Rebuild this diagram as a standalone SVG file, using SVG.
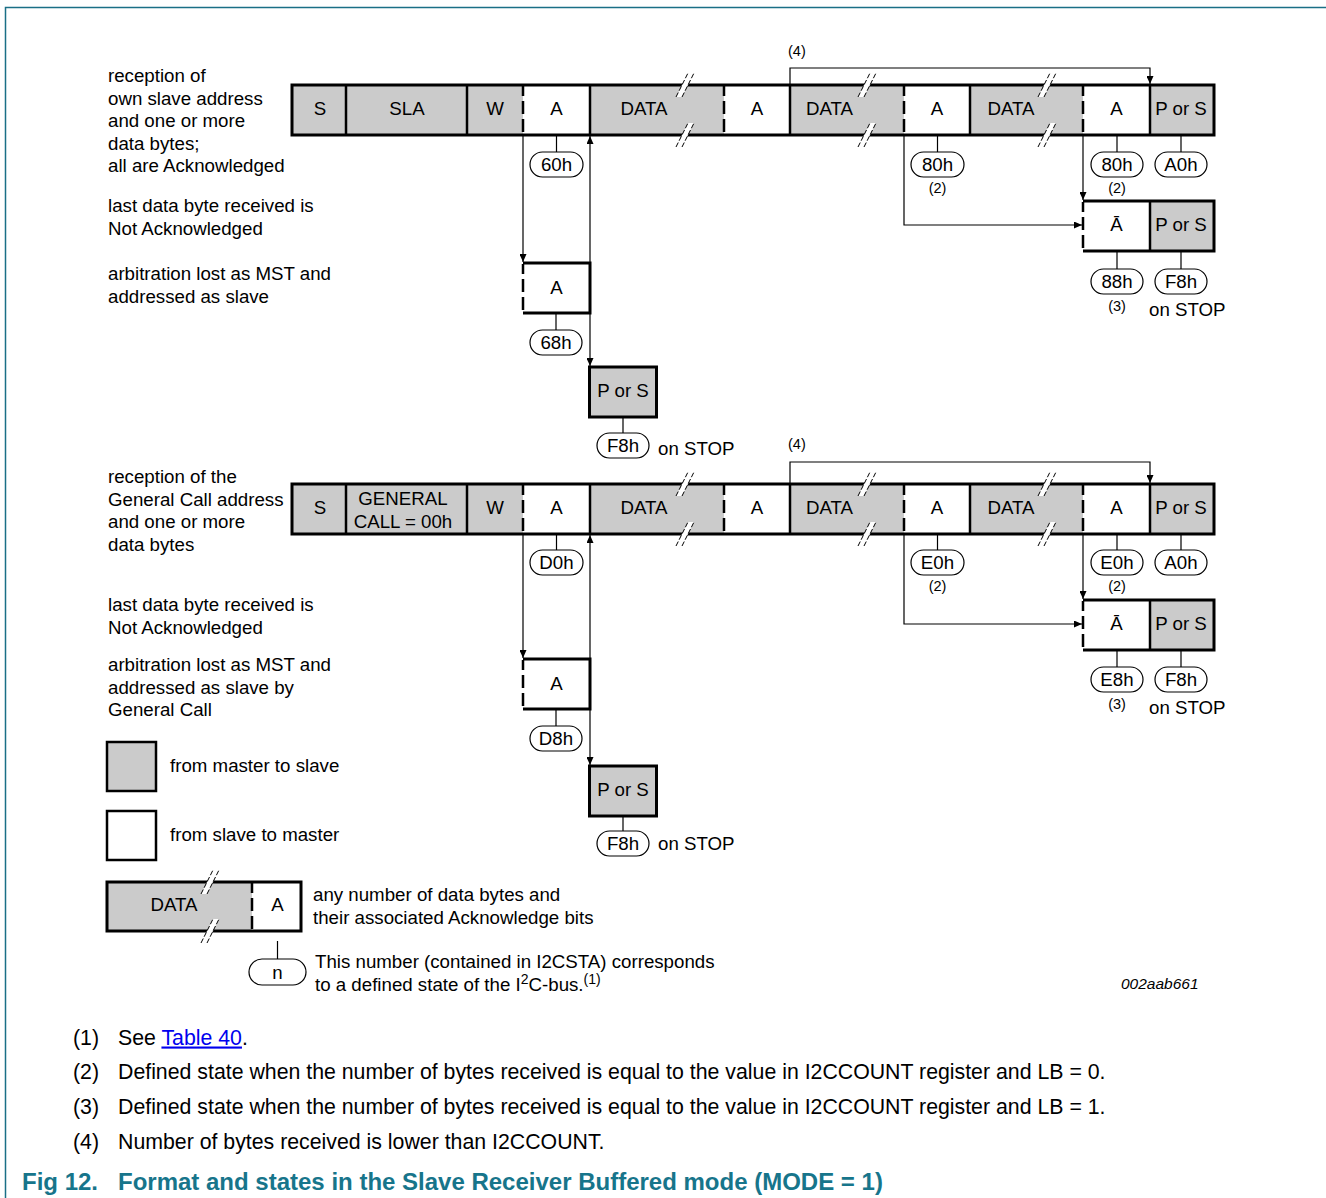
<svg xmlns="http://www.w3.org/2000/svg" width="1326" height="1198" viewBox="0 0 1326 1198">
<style>
text{font-family:"Liberation Sans",Arial,Helvetica,sans-serif;font-size:18.7px;fill:#000}
.c{text-anchor:middle}
.sm{font-size:14.5px}
.fn{font-size:21.3px}
.ttl{font-size:24px;font-weight:bold;fill:#17758b}
.id{font-size:15.5px;font-style:italic}
.gy{fill:#cbcbcb}
.wh{fill:#fff}
.bd{fill:none;stroke:#000;stroke-width:3}
.bi{fill:none;stroke:#000;stroke-width:2.5}
.ds{fill:none;stroke:#000;stroke-width:2.5;stroke-dasharray:10 5 13 5 13 5}
.ln{fill:none;stroke:#000;stroke-width:1.2}
.ov{fill:#fff;stroke:#000;stroke-width:1.2}
.frame{fill:none;stroke:#1a6f86;stroke-width:1.5}
</style>
<defs>
<marker id="ah" viewBox="0 0 8 7" refX="8" refY="3.5" markerWidth="8" markerHeight="7" orient="auto-start-reverse" markerUnits="userSpaceOnUse"><path d="M0,0L8,3.5L0,7z" fill="#000"/></marker>
<g id="brk"><polygon points="-9,12 -3,12 9,-12 3,-12" fill="#fff"/><path d="M-9,12L3,-12M-3,12L9,-12" stroke="#000" stroke-width="1" stroke-dasharray="5 2" fill="none"/></g>
</defs>

<g id="frame"><path class="frame" d="M1326,7.5H5.5V1198"/></g>

<!-- Section 1 labels -->
<g id="labels1">
<text x="108" y="82">reception of</text>
<text x="108" y="104.5">own slave address</text>
<text x="108" y="127">and one or more</text>
<text x="108" y="149.5">data bytes;</text>
<text x="108" y="172">all are Acknowledged</text>
<text x="108" y="212">last data byte received is</text>
<text x="108" y="235">Not Acknowledged</text>
<text x="108" y="280">arbitration lost as MST and</text>
<text x="108" y="302.5">addressed as slave</text>
</g>

<!-- Row 1 -->
<g id="r1-s"><rect class="gy" x="292" y="85" width="54" height="50"/><path class="bd" d="M346,85H292V135H346"/><text class="c" x="320" y="115">S</text></g>
<g id="r1-sla"><rect class="gy" x="346" y="85" width="121" height="50"/><path class="bd" d="M346,85H467M346,135H467"/><path class="bi" d="M346,85V135"/><text class="c" x="407" y="115">SLA</text></g>
<g id="r1-w"><rect class="gy" x="467" y="85" width="56" height="50"/><path class="bd" d="M467,85H523M467,135H523"/><path class="bi" d="M467,85V135"/><text class="c" x="495" y="115">W</text></g>
<g id="r1-a1"><rect class="wh" x="523" y="85" width="67" height="50"/><path class="bd" d="M523,85H590M523,135H590"/><path class="ds" d="M523,86V135"/><text class="c" x="556.5" y="115">A</text></g>
<g id="r1-d1"><rect class="gy" x="590" y="85" width="134" height="50"/><path class="bd" d="M590,85H724M590,135H724"/><path class="bi" d="M590,85V135"/><text class="c" x="644" y="115">DATA</text></g>
<g id="r1-a2"><rect class="wh" x="724" y="85" width="66" height="50"/><path class="bd" d="M724,85H790M724,135H790"/><path class="ds" d="M724,86V135"/><text class="c" x="757" y="115">A</text></g>
<g id="r1-d2"><rect class="gy" x="790" y="85" width="114" height="50"/><path class="bd" d="M790,85H904M790,135H904"/><path class="bi" d="M790,85V135"/><text class="c" x="829.5" y="115">DATA</text></g>
<g id="r1-a3"><rect class="wh" x="904" y="85" width="66" height="50"/><path class="bd" d="M904,85H970M904,135H970"/><path class="ds" d="M904,86V135"/><text class="c" x="937" y="115">A</text></g>
<g id="r1-d3"><rect class="gy" x="970" y="85" width="113" height="50"/><path class="bd" d="M970,85H1083M970,135H1083"/><path class="bi" d="M970,85V135"/><text class="c" x="1011" y="115">DATA</text></g>
<g id="r1-a4"><rect class="wh" x="1083" y="85" width="67" height="50"/><path class="bd" d="M1083,85H1150M1083,135H1150"/><path class="ds" d="M1083,86V135"/><text class="c" x="1116.5" y="115">A</text></g>
<g id="r1-ps"><rect class="gy" x="1150" y="85" width="64" height="50"/><path class="bd" d="M1150,85H1214V135H1150"/><path class="bi" d="M1150,85V135"/><text class="c" x="1181" y="115">P or S</text></g>
<g id="r1-breaks"><use href="#brk" x="685" y="85"/><use href="#brk" x="685" y="135"/><use href="#brk" x="867" y="85"/><use href="#brk" x="867" y="135"/><use href="#brk" x="1047" y="85"/><use href="#brk" x="1047" y="135"/></g>

<g id="r1-nack"><rect class="wh" x="1083" y="201" width="67" height="50"/><path class="bd" d="M1083,201H1150M1083,251H1150"/><path class="ds" d="M1083,202V251"/><text class="c" x="1116.5" y="231">Ā</text></g>
<g id="r1-nack-ps"><rect class="gy" x="1150" y="201" width="64" height="50"/><path class="bd" d="M1150,201H1214V251H1150"/><path class="bi" d="M1150,201V251"/><text class="c" x="1181" y="231">P or S</text></g>
<g id="r1-arb-a"><rect class="wh" x="523" y="263" width="67" height="50"/><path class="bd" d="M523,263H590V313H523"/><path class="ds" d="M523,264V313"/><text class="c" x="556.5" y="294">A</text></g>
<g id="r1-arb-ps"><rect class="gy" x="589.5" y="367" width="67" height="50" stroke="#000" stroke-width="3"/><text class="c" x="623" y="397">P or S</text></g>

<!-- States section 1 -->
<g id="st-60h"><rect class="ov" x="530" y="152" width="53" height="25" rx="12.5"/><text class="c" x="556.5" y="171">60h</text></g>
<g id="st-80h-a"><rect class="ov" x="911" y="152" width="53" height="25" rx="12.5"/><text class="c" x="937.5" y="171">80h</text><text class="c sm" x="937.5" y="193">(2)</text></g>
<g id="st-80h-b"><rect class="ov" x="1091" y="152" width="52" height="25" rx="12.5"/><text class="c" x="1117" y="171">80h</text><text class="c sm" x="1117" y="193">(2)</text></g>
<g id="st-a0h-1"><rect class="ov" x="1155" y="152" width="52" height="25" rx="12.5"/><text class="c" x="1181" y="171">A0h</text></g>
<g id="st-88h"><rect class="ov" x="1091" y="269" width="52" height="25" rx="12.5"/><text class="c" x="1117" y="288">88h</text><text class="c sm" x="1117" y="311">(3)</text></g>
<g id="st-f8h-1"><rect class="ov" x="1155" y="269" width="52" height="25" rx="12.5"/><text class="c" x="1181" y="288">F8h</text><text x="1149" y="316">on STOP</text></g>
<g id="st-68h"><rect class="ov" x="530" y="330" width="52" height="25" rx="12.5"/><text class="c" x="556" y="349">68h</text></g>
<g id="st-f8h-2"><rect class="ov" x="597" y="433" width="52" height="25" rx="12.5"/><text class="c" x="623" y="452">F8h</text><text x="658" y="455">on STOP</text></g>
<text class="sm" x="788" y="56">(4)</text>

<!-- Section 2 labels -->
<g id="labels2">
<text x="108" y="483">reception of the</text>
<text x="108" y="505.5">General Call address</text>
<text x="108" y="528">and one or more</text>
<text x="108" y="550.5">data bytes</text>
<text x="108" y="611">last data byte received is</text>
<text x="108" y="633.5">Not Acknowledged</text>
<text x="108" y="671">arbitration lost as MST and</text>
<text x="108" y="693.5">addressed as slave by</text>
<text x="108" y="716">General Call</text>
</g>

<!-- Row 2 -->
<g id="r2-s"><rect class="gy" x="292" y="484" width="54" height="50"/><path class="bd" d="M346,484H292V534H346"/><text class="c" x="320" y="514">S</text></g>
<g id="r2-gc"><rect class="gy" x="346" y="484" width="121" height="50"/><path class="bd" d="M346,484H467M346,534H467"/><path class="bi" d="M346,484V534"/><text class="c" x="403" y="504.5">GENERAL</text><text class="c" x="403" y="527.5">CALL = 00h</text></g>
<g id="r2-w"><rect class="gy" x="467" y="484" width="56" height="50"/><path class="bd" d="M467,484H523M467,534H523"/><path class="bi" d="M467,484V534"/><text class="c" x="495" y="514">W</text></g>
<g id="r2-a1"><rect class="wh" x="523" y="484" width="67" height="50"/><path class="bd" d="M523,484H590M523,534H590"/><path class="ds" d="M523,485V534"/><text class="c" x="556.5" y="514">A</text></g>
<g id="r2-d1"><rect class="gy" x="590" y="484" width="134" height="50"/><path class="bd" d="M590,484H724M590,534H724"/><path class="bi" d="M590,484V534"/><text class="c" x="644" y="514">DATA</text></g>
<g id="r2-a2"><rect class="wh" x="724" y="484" width="66" height="50"/><path class="bd" d="M724,484H790M724,534H790"/><path class="ds" d="M724,485V534"/><text class="c" x="757" y="514">A</text></g>
<g id="r2-d2"><rect class="gy" x="790" y="484" width="114" height="50"/><path class="bd" d="M790,484H904M790,534H904"/><path class="bi" d="M790,484V534"/><text class="c" x="829.5" y="514">DATA</text></g>
<g id="r2-a3"><rect class="wh" x="904" y="484" width="66" height="50"/><path class="bd" d="M904,484H970M904,534H970"/><path class="ds" d="M904,485V534"/><text class="c" x="937" y="514">A</text></g>
<g id="r2-d3"><rect class="gy" x="970" y="484" width="113" height="50"/><path class="bd" d="M970,484H1083M970,534H1083"/><path class="bi" d="M970,484V534"/><text class="c" x="1011" y="514">DATA</text></g>
<g id="r2-a4"><rect class="wh" x="1083" y="484" width="67" height="50"/><path class="bd" d="M1083,484H1150M1083,534H1150"/><path class="ds" d="M1083,485V534"/><text class="c" x="1116.5" y="514">A</text></g>
<g id="r2-ps"><rect class="gy" x="1150" y="484" width="64" height="50"/><path class="bd" d="M1150,484H1214V534H1150"/><path class="bi" d="M1150,484V534"/><text class="c" x="1181" y="514">P or S</text></g>
<g id="r2-breaks"><use href="#brk" x="685" y="484"/><use href="#brk" x="685" y="534"/><use href="#brk" x="867" y="484"/><use href="#brk" x="867" y="534"/><use href="#brk" x="1047" y="484"/><use href="#brk" x="1047" y="534"/></g>

<g id="r2-nack"><rect class="wh" x="1083" y="600" width="67" height="50"/><path class="bd" d="M1083,600H1150M1083,650H1150"/><path class="ds" d="M1083,601V650"/><text class="c" x="1116.5" y="630">Ā</text></g>
<g id="r2-nack-ps"><rect class="gy" x="1150" y="600" width="64" height="50"/><path class="bd" d="M1150,600H1214V650H1150"/><path class="bi" d="M1150,600V650"/><text class="c" x="1181" y="630">P or S</text></g>
<g id="r2-arb-a"><rect class="wh" x="523" y="659" width="67" height="50"/><path class="bd" d="M523,659H590V709H523"/><path class="ds" d="M523,660V709"/><text class="c" x="556.5" y="690">A</text></g>
<g id="r2-arb-ps"><rect class="gy" x="589.5" y="766" width="67" height="50" stroke="#000" stroke-width="3"/><text class="c" x="623" y="796">P or S</text></g>

<!-- States section 2 -->
<g id="st-d0h"><rect class="ov" x="530" y="550" width="53" height="25" rx="12.5"/><text class="c" x="556.5" y="569">D0h</text></g>
<g id="st-e0h-a"><rect class="ov" x="911" y="550" width="53" height="25" rx="12.5"/><text class="c" x="937.5" y="569">E0h</text><text class="c sm" x="937.5" y="591">(2)</text></g>
<g id="st-e0h-b"><rect class="ov" x="1091" y="550" width="52" height="25" rx="12.5"/><text class="c" x="1117" y="569">E0h</text><text class="c sm" x="1117" y="591">(2)</text></g>
<g id="st-a0h-2"><rect class="ov" x="1155" y="550" width="52" height="25" rx="12.5"/><text class="c" x="1181" y="569">A0h</text></g>
<g id="st-e8h"><rect class="ov" x="1091" y="667" width="52" height="25" rx="12.5"/><text class="c" x="1117" y="686">E8h</text><text class="c sm" x="1117" y="709">(3)</text></g>
<g id="st-f8h-3"><rect class="ov" x="1155" y="667" width="52" height="25" rx="12.5"/><text class="c" x="1181" y="686">F8h</text><text x="1149" y="714">on STOP</text></g>
<g id="st-d8h"><rect class="ov" x="530" y="726" width="52" height="25" rx="12.5"/><text class="c" x="556" y="745">D8h</text></g>
<g id="st-f8h-4"><rect class="ov" x="597" y="831" width="52" height="25" rx="12.5"/><text class="c" x="623" y="850">F8h</text><text x="658" y="850">on STOP</text></g>
<text class="sm" x="788" y="449">(4)</text>

<!-- Connectors -->
<g id="connectors">
<path class="ln" d="M556.5,135V152M937.5,135V152M1117,135V152M1181,135V152M1117,251V269M1181,251V269M556,313V330M623,417V433"/>
<path class="ln" d="M523,135V262" marker-end="url(#ah)"/>
<path class="ln" d="M590,136V366" marker-start="url(#ah)" marker-end="url(#ah)"/>
<path class="ln" d="M904,135V225H1082" marker-end="url(#ah)"/>
<path class="ln" d="M1083,135V200" marker-end="url(#ah)"/>
<path class="ln" d="M790,85V68H1150V84" marker-end="url(#ah)"/>
<path class="ln" d="M556.5,534V550M937.5,534V550M1117,534V550M1181,534V550M1117,650V667M1181,650V667M556,709V726M623,816V831"/>
<path class="ln" d="M523,534V658" marker-end="url(#ah)"/>
<path class="ln" d="M590,535V765" marker-start="url(#ah)" marker-end="url(#ah)"/>
<path class="ln" d="M904,534V624H1082" marker-end="url(#ah)"/>
<path class="ln" d="M1083,534V599" marker-end="url(#ah)"/>
<path class="ln" d="M790,484V462H1150V483" marker-end="url(#ah)"/>
<path class="ln" d="M277.5,941V959"/>
</g>

<!-- Legend -->
<g id="leg-m2s"><rect class="gy" x="107" y="742" width="49" height="49" stroke="#000" stroke-width="2.5"/><text x="170" y="772">from master to slave</text></g>
<g id="leg-s2m"><rect class="wh" x="107" y="811" width="49" height="49" stroke="#000" stroke-width="2.5"/><text x="170" y="841">from slave to master</text></g>
<g id="leg-data"><rect class="gy" x="107" y="882" width="145" height="49"/><path class="bd" d="M252,882H107V931H252"/><text class="c" x="174" y="911">DATA</text></g>
<g id="leg-a"><rect class="wh" x="252" y="882" width="49" height="49"/><path class="bd" d="M252,882H301V931H252"/><path class="ds" d="M252,883V931"/><text class="c" x="277.5" y="911">A</text></g>
<g id="leg-breaks"><use href="#brk" x="210" y="882"/><use href="#brk" x="210" y="931"/></g>
<text x="313" y="901">any number of data bytes and</text>
<text x="313" y="924">their associated Acknowledge bits</text>
<g id="leg-n"><rect class="ov" x="249" y="959" width="57" height="26" rx="13"/><text class="c" x="277.5" y="979">n</text></g>
<text x="315" y="968">This number (contained in I2CSTA) corresponds</text>
<text x="315" y="991">to a defined state of the I<tspan font-size="14" dy="-7">2</tspan><tspan dy="7">C-bus.</tspan><tspan font-size="14" dy="-7">(1)</tspan></text>
<text class="id" x="1121" y="989">002aab661</text>

<!-- Footnotes -->
<g id="notes">
<text class="fn" x="73" y="1044.5">(1)</text><text class="fn" x="118" y="1044.5">See <tspan fill="#0000ee" text-decoration="underline">Table 40</tspan>.</text>
<text class="fn" x="73" y="1078.5">(2)</text><text class="fn" x="118" y="1078.5">Defined state when the number of bytes received is equal to the value in I2CCOUNT register and LB = 0.</text>
<text class="fn" x="73" y="1113.5">(3)</text><text class="fn" x="118" y="1113.5">Defined state when the number of bytes received is equal to the value in I2CCOUNT register and LB = 1.</text>
<text class="fn" x="73" y="1148.5">(4)</text><text class="fn" x="118" y="1148.5">Number of bytes received is lower than I2CCOUNT.</text>
</g>
<g id="title"><text class="ttl" x="22" y="1190">Fig 12.</text><text class="ttl" x="118" y="1190">Format and states in the Slave Receiver Buffered mode (MODE = 1)</text></g>
</svg>
